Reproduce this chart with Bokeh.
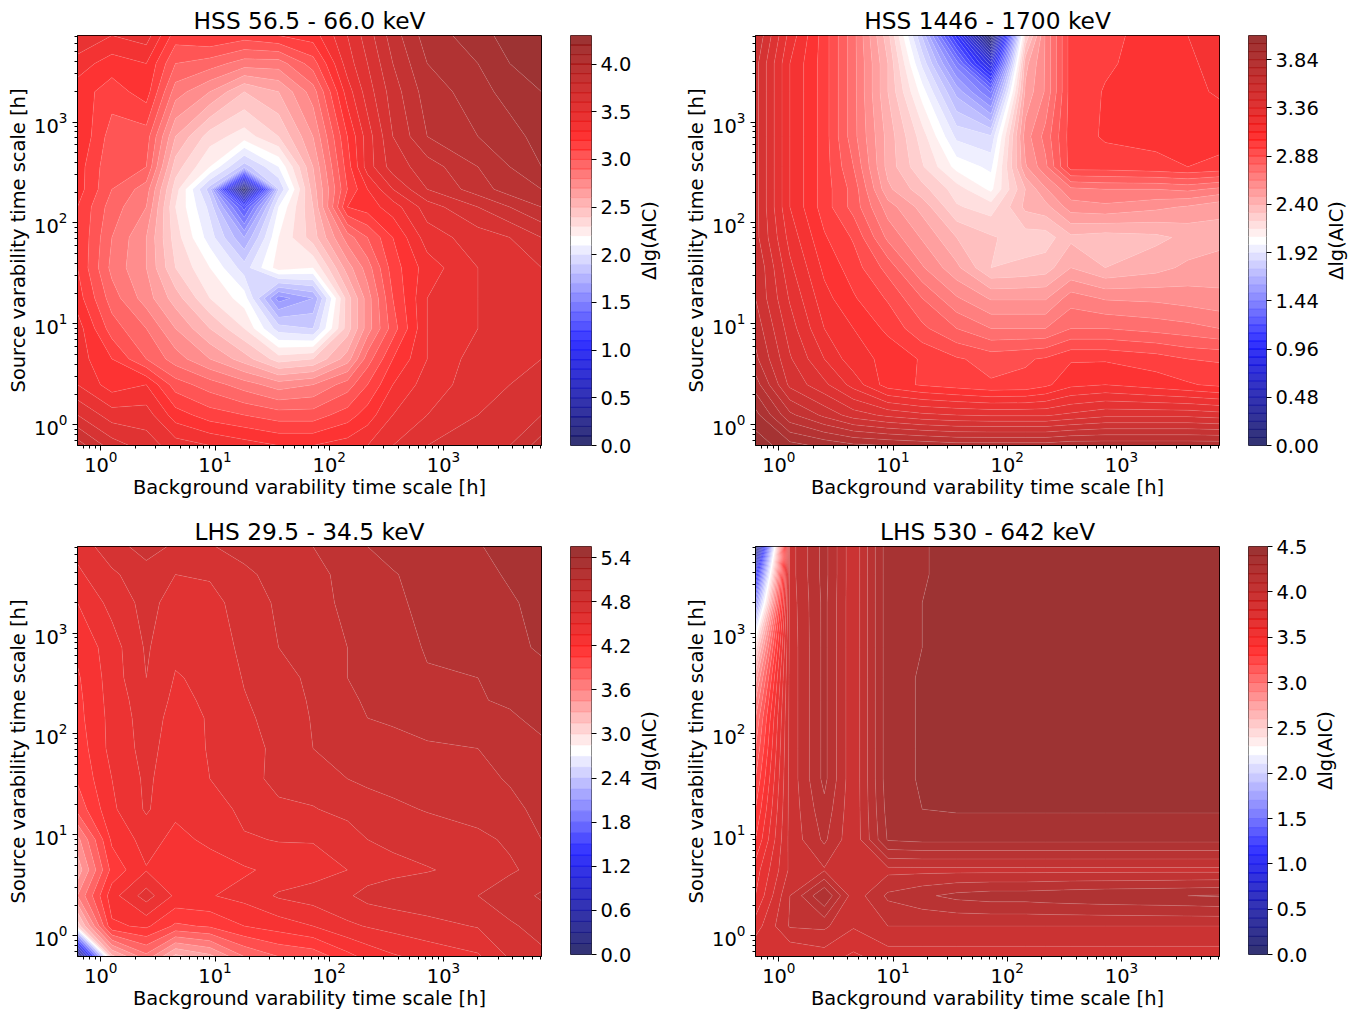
import numpy as np
from bokeh.embed import file_html
from bokeh.layouts import column, row
from bokeh.models import FixedTicker, LogTickFormatter, PrintfTickFormatter, Range1d
from bokeh.plotting import figure
from bokeh.resources import INLINE

# time-scale grid [h], same for both axes
TIME_SCALES = [0.625, 1.25, 2.5, 4.5, 9, 18, 36, 72, 144, 216, 360, 720, 2000, 3800, 7200]

TITLES = ["HSS 56.5 - 66.0 keV", "HSS 1446 - 1700 keV", "LHS 29.5 - 34.5 keV", "LHS 530 - 642 keV"]
X_LABEL = "Background varability time scale [h]"
Y_LABEL = "Source varability time scale [h]"
CB_LABEL = "Δlg(AIC)"

LEVEL_STEP = [0.1, 0.08, 0.15, 0.1]
LEVEL_COUNT = [43, 51, 37, 45]
CB_TICKS = [
    [0.0, 0.5, 1.0, 1.5, 2.0, 2.5, 3.0, 3.5, 4.0],
    [0.0, 0.48, 0.96, 1.44, 1.92, 2.40, 2.88, 3.36, 3.84],
    [0.0, 0.6, 1.2, 1.8, 2.4, 3.0, 3.6, 4.2, 4.8, 5.4],
    [0.0, 0.5, 1.0, 1.5, 2.0, 2.5, 3.0, 3.5, 4.0, 4.5],
]
CB_FORMAT = ["%.1f", "%.2f", "%.1f", "%.1f"]
CB_RIGHT = [43, 52, 43, 41]
CB_LABEL_PAD = [0, 3, 0, 0]

# Δlg(AIC), rows run from the shortest source time scale to the longest
Z_HSS_LOW = [
    [3.85, 3.65, 3.55, 3.45, 3.40, 3.35, 3.30, 3.30, 3.35, 3.40, 3.50, 3.60, 3.65, 3.70, 3.85],
    [3.60, 3.45, 3.45, 3.25, 3.15, 3.10, 3.05, 3.05, 3.15, 3.25, 3.40, 3.50, 3.60, 3.65, 3.70],
    [3.40, 3.25, 3.30, 3.05, 2.95, 2.85, 2.75, 2.80, 2.95, 3.10, 3.30, 3.45, 3.55, 3.60, 3.65],
    [3.35, 3.20, 3.00, 2.85, 2.70, 2.55, 2.35, 2.40, 2.65, 2.95, 3.20, 3.40, 3.55, 3.60, 3.60],
    [3.35, 3.05, 2.90, 2.70, 2.50, 2.30, 1.95, 1.90, 2.45, 2.75, 3.05, 3.40, 3.50, 3.55, 3.55],
    [3.25, 2.95, 2.75, 2.55, 2.30, 2.15, 1.55, 1.70, 2.45, 2.75, 3.10, 3.40, 3.50, 3.55, 3.55],
    [3.20, 2.87, 2.70, 2.40, 2.20, 1.95, 2.25, 2.20, 2.65, 2.85, 3.15, 3.35, 3.50, 3.55, 3.60],
    [3.20, 2.90, 2.70, 2.35, 2.05, 1.70, 2.20, 2.45, 2.85, 3.00, 3.20, 3.45, 3.55, 3.60, 3.70],
    [3.20, 2.95, 2.80, 2.30, 1.97, 1.25, 2.10, 2.50, 3.20, 3.25, 3.35, 3.55, 3.70, 3.80, 3.90],
    [3.25, 3.00, 2.85, 2.35, 1.85, 0.02, 1.90, 2.55, 3.10, 3.30, 3.50, 3.70, 3.85, 3.95, 4.00],
    [3.25, 3.02, 3.00, 2.45, 2.20, 1.85, 2.10, 2.60, 3.15, 3.45, 3.65, 3.75, 3.90, 4.00, 4.10],
    [3.30, 3.05, 3.05, 2.60, 2.35, 2.25, 2.40, 2.70, 3.20, 3.45, 3.70, 3.90, 4.00, 4.05, 4.15],
    [3.25, 3.15, 3.25, 2.85, 2.70, 2.50, 2.60, 2.85, 3.35, 3.55, 3.75, 3.95, 4.05, 4.15, 4.20],
    [3.35, 3.25, 3.30, 3.00, 2.95, 2.85, 2.85, 3.05, 3.45, 3.60, 3.80, 4.00, 4.10, 4.20, 4.25],
    [3.50, 3.40, 3.45, 3.15, 3.20, 3.15, 3.20, 3.25, 3.50, 3.65, 3.85, 4.05, 4.15, 4.25, 4.29],
]
Z_HSS_HIGH = [
    [4.05, 3.95, 3.90, 3.86, 3.84, 3.82, 3.80, 3.80, 3.80, 3.80, 3.82, 3.82, 3.82, 3.82, 3.82],
    [3.95, 3.70, 3.58, 3.48, 3.42, 3.38, 3.36, 3.35, 3.35, 3.35, 3.38, 3.42, 3.42, 3.42, 3.40],
    [3.80, 3.50, 3.38, 3.25, 3.08, 3.03, 3.00, 2.97, 2.98, 3.02, 3.10, 3.12, 3.08, 3.05, 3.02],
    [3.70, 3.45, 3.28, 3.15, 3.10, 3.03, 2.97, 2.93, 2.95, 2.97, 3.03, 3.03, 3.00, 2.96, 2.95],
    [3.65, 3.40, 3.20, 3.12, 3.02, 2.90, 2.80, 2.72, 2.72, 2.72, 2.80, 2.80, 2.77, 2.75, 2.72],
    [3.60, 3.35, 3.15, 3.05, 2.95, 2.80, 2.65, 2.55, 2.55, 2.55, 2.68, 2.63, 2.62, 2.60, 2.58],
    [3.60, 3.30, 3.10, 3.00, 2.85, 2.65, 2.50, 2.32, 2.34, 2.36, 2.48, 2.40, 2.45, 2.50, 2.52],
    [3.55, 3.25, 3.05, 2.95, 2.70, 2.55, 2.40, 2.33, 2.28, 2.28, 2.38, 2.36, 2.38, 2.42, 2.45],
    [3.55, 3.20, 3.00, 2.85, 2.60, 2.45, 2.25, 2.20, 2.42, 2.45, 2.60, 2.62, 2.58, 2.55, 2.50],
    [3.55, 3.20, 3.00, 2.85, 2.50, 2.35, 2.20, 2.06, 2.40, 2.55, 2.70, 2.72, 2.72, 2.74, 2.70],
    [3.55, 3.20, 3.00, 2.80, 2.45, 2.25, 2.05, 1.98, 2.55, 2.70, 3.00, 3.00, 3.02, 3.04, 3.02],
    [3.55, 3.20, 3.00, 2.75, 2.45, 2.20, 1.90, 1.85, 2.60, 2.75, 3.00, 3.05, 3.06, 3.07, 3.07],
    [3.55, 3.20, 3.00, 2.75, 2.40, 2.04, 1.65, 1.35, 2.50, 2.65, 3.00, 3.045, 3.09, 3.10, 3.13],
    [3.55, 3.20, 3.00, 2.75, 2.40, 1.90, 1.40, 0.75, 2.45, 2.65, 3.00, 3.03, 3.07, 3.10, 3.16],
    [3.60, 3.25, 3.00, 2.75, 2.35, 1.75, 1.00, 0.02, 2.25, 2.65, 3.00, 3.02, 3.07, 3.12, 3.20],
]
Z_LHS_LOW = [
    [0.02, 3.25, 3.70, 3.25, 3.40, 3.75, 3.90, 3.95, 4.15, 4.25, 4.33, 4.40, 4.48, 4.67, 4.77],
    [3.05, 4.17, 4.23, 4.02, 4.07, 4.20, 4.27, 4.35, 4.47, 4.51, 4.55, 4.60, 4.66, 4.78, 4.85],
    [3.60, 4.29, 4.57, 4.32, 4.34, 4.40, 4.52, 4.57, 4.63, 4.70, 4.73, 4.75, 4.80, 4.88, 4.97],
    [3.35, 4.10, 4.34, 4.25, 4.28, 4.33, 4.39, 4.43, 4.50, 4.57, 4.61, 4.64, 4.70, 4.78, 4.85],
    [3.55, 4.23, 4.41, 4.31, 4.38, 4.48, 4.51, 4.51, 4.57, 4.65, 4.68, 4.72, 4.77, 4.82, 4.95],
    [3.95, 4.32, 4.52, 4.38, 4.40, 4.55, 4.63, 4.64, 4.70, 4.73, 4.77, 4.81, 4.85, 4.92, 4.98],
    [4.07, 4.35, 4.53, 4.41, 4.50, 4.61, 4.68, 4.73, 4.80, 4.83, 4.85, 4.89, 4.92, 4.96, 5.03],
    [4.11, 4.40, 4.55, 4.43, 4.51, 4.57, 4.70, 4.80, 4.85, 4.88, 4.90, 4.93, 4.95, 5.00, 5.07],
    [4.15, 4.40, 4.57, 4.45, 4.51, 4.62, 4.71, 4.81, 4.91, 4.95, 4.97, 5.01, 5.05, 5.08, 5.14],
    [4.16, 4.41, 4.59, 4.47, 4.52, 4.64, 4.72, 4.82, 4.92, 4.97, 5.00, 5.05, 5.09, 5.12, 5.15],
    [4.18, 4.42, 4.65, 4.49, 4.53, 4.66, 4.75, 4.83, 4.95, 4.98, 5.02, 5.09, 5.10, 5.15, 5.20],
    [4.23, 4.43, 4.67, 4.53, 4.55, 4.69, 4.80, 4.87, 4.95, 5.00, 5.05, 5.11, 5.17, 5.21, 5.27],
    [4.35, 4.55, 4.70, 4.59, 4.59, 4.73, 4.82, 4.90, 4.98, 5.03, 5.07, 5.14, 5.18, 5.23, 5.30],
    [4.47, 4.62, 4.75, 4.65, 4.67, 4.77, 4.85, 4.92, 4.98, 5.03, 5.09, 5.15, 5.20, 5.27, 5.32],
    [4.55, 4.75, 4.85, 4.78, 4.79, 4.85, 4.90, 4.95, 5.02, 5.10, 5.15, 5.18, 5.24, 5.30, 5.35],
]
Z_LHS_HIGH = [
    [3.90, 3.80, 3.85, 3.78, 3.85, 3.85, 3.85, 3.85, 3.85, 3.85, 3.85, 3.85, 3.85, 3.85, 3.85],
    [3.75, 4.01, 4.02, 3.91, 4.00, 4.00, 4.00, 4.00, 4.00, 4.00, 4.00, 4.00, 4.00, 4.00, 4.00],
    [3.60, 4.00, 4.30, 3.94, 4.12, 4.18, 4.23, 4.25, 4.25, 4.26, 4.27, 4.28, 4.29, 4.30, 4.31],
    [3.55, 3.92, 3.99, 3.91, 3.97, 3.97, 3.97, 3.97, 3.97, 3.97, 3.97, 3.97, 3.97, 3.97, 3.97],
    [3.40, 3.93, 4.12, 3.92, 4.31, 4.33, 4.33, 4.33, 4.33, 4.33, 4.33, 4.33, 4.33, 4.33, 4.33],
    [3.30, 3.93, 4.17, 3.92, 4.34, 4.40, 4.41, 4.41, 4.41, 4.41, 4.41, 4.41, 4.41, 4.41, 4.41],
    [3.20, 3.93, 4.23, 3.92, 4.36, 4.41, 4.43, 4.44, 4.44, 4.45, 4.45, 4.45, 4.46, 4.46, 4.46],
    [3.10, 3.93, 4.23, 3.92, 4.36, 4.41, 4.44, 4.45, 4.46, 4.46, 4.47, 4.47, 4.47, 4.48, 4.48],
    [3.00, 3.93, 4.23, 3.92, 4.36, 4.41, 4.44, 4.46, 4.47, 4.47, 4.47, 4.48, 4.48, 4.48, 4.48],
    [2.90, 3.93, 4.23, 3.92, 4.36, 4.41, 4.44, 4.46, 4.47, 4.47, 4.48, 4.48, 4.48, 4.48, 4.49],
    [2.75, 3.93, 4.23, 3.92, 4.36, 4.41, 4.44, 4.46, 4.47, 4.47, 4.48, 4.48, 4.48, 4.49, 4.49],
    [2.45, 3.93, 4.23, 3.92, 4.36, 4.40, 4.44, 4.46, 4.47, 4.47, 4.48, 4.48, 4.49, 4.49, 4.49],
    [1.63, 3.94, 4.23, 3.92, 4.36, 4.40, 4.44, 4.46, 4.47, 4.48, 4.48, 4.48, 4.49, 4.49, 4.49],
    [0.97, 3.95, 4.24, 3.92, 4.36, 4.39, 4.44, 4.46, 4.47, 4.48, 4.48, 4.49, 4.49, 4.49, 4.49],
    [0.02, 3.95, 4.24, 3.92, 4.36, 4.39, 4.44, 4.46, 4.47, 4.48, 4.48, 4.49, 4.49, 4.49, 4.49],
]
Z_ALL = [Z_HSS_LOW, Z_HSS_HIGH, Z_LHS_LOW, Z_LHS_HIGH]

FONT = "DejaVu Sans"
TICK_PX = "19.44px"
TITLE_PX = "23.3px"
FILL_ALPHA = 0.8
CB_SPAN = 108

SEISMIC = [(0.0, (0, 0, 0.3)), (0.25, (0, 0, 1)), (0.5, (1, 1, 1)), (0.75, (1, 0, 0)), (1.0, (0.5, 0, 0))]


def seismic_hex(t):
    pos = [s[0] for s in SEISMIC]
    rgb = [np.interp(t, pos, [s[1][i] for s in SEISMIC]) for i in range(3)]
    return "#%02x%02x%02x" % tuple(int(round(255 * c)) for c in rgb)


def style_axis(ax):
    ax.axis_label_text_font = FONT
    ax.axis_label_text_font_size = TICK_PX
    ax.axis_label_text_font_style = "normal"
    ax.major_label_text_font = FONT
    ax.major_label_text_font_size = TICK_PX
    ax.major_label_text_color = "black"
    ax.axis_label_text_color = "black"
    ax.axis_label_text_line_height = 1.0
    ax.major_label_text_line_height = 1.0
    ax.axis_line_color = "black"
    ax.major_tick_line_color = "black"
    ax.minor_tick_line_color = "black"
    ax.major_tick_in = 0
    ax.major_tick_out = 5
    ax.minor_tick_in = 0
    ax.minor_tick_out = 3


def log_ticks():
    major = [1, 10, 100, 1000]
    minor = [m * d for d in [0.1, 1, 10, 100, 1000] for m in range(2, 10)]
    return FixedTicker(ticks=major, minor_ticks=minor)


def panel(i, top, bottom):
    levels = np.arange(LEVEL_COUNT[i] + 1) * LEVEL_STEP[i]
    vmax = levels[-1]
    mids = 0.5 * (levels[:-1] + levels[1:])
    colors = [seismic_hex(m / vmax) for m in mids]

    p = figure(width=77 + 464 + 28, height=top + 410 + bottom,
               frame_width=464, frame_height=410,
               x_axis_type="log", y_axis_type="log",
               x_range=Range1d(TIME_SCALES[0], TIME_SCALES[-1]),
               y_range=Range1d(TIME_SCALES[0], TIME_SCALES[-1]),
               title=TITLES[i], toolbar_location=None, output_backend="svg",
               min_border_left=77, min_border_right=28,
               min_border_top=top, min_border_bottom=bottom)
    p.title.align = "center"
    p.title.text_font = FONT
    p.title.text_font_size = TITLE_PX
    p.title.text_font_style = "normal"
    p.title.text_color = "black"
    p.title.standoff = 3
    p.grid.visible = False
    p.outline_line_color = "black"
    p.outline_line_width = 1
    p.background_fill_color = "white"

    lg = np.log10(TIME_SCALES)
    cr = p.contour(lg, lg, np.array(Z_ALL[i]), levels, fill_color=colors, fill_alpha=FILL_ALPHA,
                   line_color="white", line_alpha=0.2, line_width=0.6)
    src = cr.fill_renderer.data_source
    data = dict(src.data)
    for key in ("xs", "ys"):
        data[key] = [[[10.0 ** np.asarray(ring) for ring in poly] for poly in multi] for multi in data[key]]
    src.data = data
    src = cr.line_renderer.data_source
    data = dict(src.data)
    for key in ("xs", "ys"):
        data[key] = [10.0 ** np.asarray(line) for line in data[key]]
    src.data = data

    p.xaxis.axis_label = X_LABEL
    p.yaxis.axis_label = Y_LABEL
    for ax in (p.xaxis[0], p.yaxis[0]):
        style_axis(ax)
        ax.ticker = log_ticks()
        ax.formatter = LogTickFormatter()
    p.xaxis.axis_label_standoff = 1
    p.yaxis.axis_label_standoff = 1
    p.xaxis.major_label_standoff = 0
    p.yaxis.major_label_standoff = 5

    cb_width = 1 + 21 + CB_RIGHT[i]
    cb = figure(width=cb_width, height=top + 410 + bottom,
                x_range=Range1d(0, 1), y_range=Range1d(0, vmax),
                y_axis_location="right", toolbar_location=None, output_backend="svg",
                min_border_left=1, min_border_right=CB_RIGHT[i],
                min_border_top=top, min_border_bottom=bottom)
    cb.xaxis.visible = False
    cb.grid.visible = False
    cb.outline_line_color = "#444444"
    cb.outline_line_width = 1
    cb.quad(left=0, right=1, bottom=levels[:-1], top=levels[1:], fill_color=colors,
            fill_alpha=FILL_ALPHA, line_color=colors, line_alpha=0.8, line_width=0.6)
    ax = cb.yaxis[0]
    style_axis(ax)
    ax.axis_line_color = None
    ax.ticker = FixedTicker(ticks=CB_TICKS[i])
    ax.formatter = PrintfTickFormatter(format=CB_FORMAT[i])
    ax.major_label_standoff = 4

    # a frameless strip whose left axis carries the colour bar's title, reading upwards
    lab = figure(width=CB_SPAN + 1 - cb_width, height=top + 410 + bottom,
                 x_range=Range1d(0, 1), y_range=Range1d(0, 1),
                 toolbar_location=None, output_backend="svg",
                 min_border_left=10, min_border_right=0,
                 min_border_top=top, min_border_bottom=bottom)
    lab.xaxis.visible = False
    lab.grid.visible = False
    lab.outline_line_color = None
    ax = lab.yaxis[0]
    style_axis(ax)
    ax.axis_label = CB_LABEL
    ax.axis_label_standoff = 0
    ax.axis_line_color = None
    ax.major_tick_out = 0
    ax.minor_tick_out = 0
    ax.major_label_standoff = CB_LABEL_PAD[i]
    ax.major_label_text_color = None
    ax.ticker = FixedTicker(ticks=[])
    return p, cb, lab


rows = []
for a, b, top, bottom in [(0, 1, 35, 68), (2, 3, 33, 54)]:
    left = panel(a, top, bottom)
    right = panel(b, top, bottom)
    rows.append(row(*left, *right))

page = column(*rows)
open("out.html", "w").write(file_html(page, INLINE))
